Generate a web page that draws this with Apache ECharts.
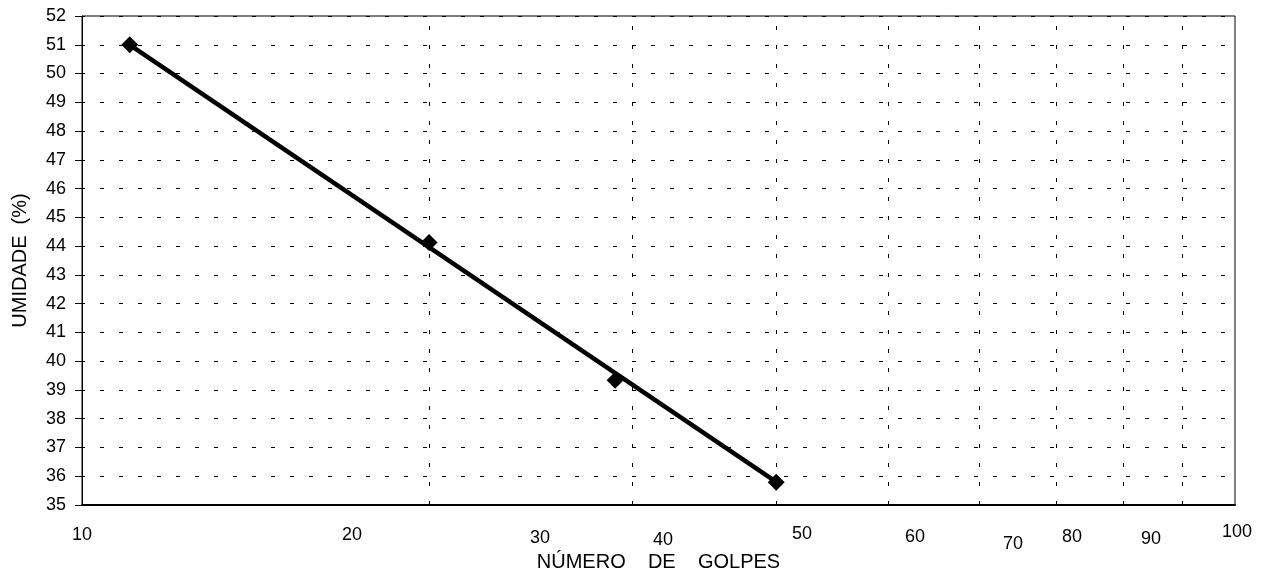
<!DOCTYPE html>
<html>
<head>
<meta charset="utf-8">
<script src="https://cdn.jsdelivr.net/npm/echarts@6/dist/echarts.min.js"></script>
<style>
  html, body { margin: 0; padding: 0; background: #fff; }
  #chart { width: 1269px; height: 581px; }
</style>
</head>
<body>
<div id="chart"></div>
<script>
// ---- data ----
const blows = [11, 20, 29, 40];
const moisture = [51.0, 44.13, 39.34, 35.79];
const trendBlows = [11, 40];
const trendMoisture = [51.0, 35.8];
const gridBlows = [20, 30, 40, 50, 60, 70, 80, 90];
const xTickLabels = ['10', '20', '30', '40', '50', '60', '70', '80', '90', '100'];
const xAxisTitle = 'NÚMERO    DE    GOLPES';
const yAxisTitle = 'UMIDADE  (%)';

// ---- layout (hand-placed tick-label text boxes, as in the original) ----
const xTickLabelPos = [[82, 535], [352, 535], [540, 538], [663, 540], [802, 534],
                       [915, 537], [1013, 544], [1072, 537], [1151, 539], [1237, 532]];

const FONT = 'Arial, "Liberation Sans", sans-serif';

const chart = echarts.init(document.getElementById('chart'), null, { renderer: 'canvas' });

const graphics = xTickLabels.map((t, i) => ({
  type: 'text',
  x: xTickLabelPos[i][0],
  y: xTickLabelPos[i][1],
  silent: true,
  style: {
    text: t,
    fill: '#000',
    font: '18px ' + FONT,
    textAlign: 'center',
    textVerticalAlign: 'middle'
  }
}));

chart.setOption({
  animation: false,
  backgroundColor: '#fff',
  grid: {
    left: 82, right: 34, top: 16, bottom: 76,
    show: true, borderColor: '#000', borderWidth: 1, backgroundColor: 'transparent'
  },
  xAxis: {
    type: 'log',
    logBase: 10,
    min: 10,
    max: 100,
    name: xAxisTitle,
    nameLocation: 'middle',
    nameGap: 47,
    nameTextStyle: { color: '#000', fontSize: 20, fontFamily: FONT },
    axisLine: { show: true, lineStyle: { color: '#000', width: 2 } },
    axisTick: { show: false },
    axisLabel: { show: false },
    splitLine: { show: false },
    minorTick: { show: false },
    minorSplitLine: { show: false }
  },
  yAxis: {
    type: 'value',
    min: 35,
    max: 52,
    interval: 1,
    name: yAxisTitle,
    nameLocation: 'middle',
    nameGap: 52,
    nameTextStyle: { color: '#000', fontSize: 20, fontFamily: FONT },
    axisLine: { show: true, lineStyle: { color: '#000', width: 1 } },
    axisTick: { show: true, inside: false, length: 7, lineStyle: { color: '#000' } },
    axisLabel: { color: '#000', fontSize: 18, fontFamily: FONT, margin: 16 },
    splitLine: {
      show: true,
      lineStyle: { color: '#000', width: 1, type: [4, 15], dashOffset: 1 }
    }
  },
  series: [
    {
      type: 'line',
      data: trendBlows.map((b, i) => [b, trendMoisture[i]]),
      showSymbol: false,
      symbol: 'none',
      lineStyle: { color: '#000', width: 4.5 },
      silent: true,
      z: 2,
      markLine: {
        silent: true,
        symbol: ['none', 'none'],
        label: { show: false },
        lineStyle: { color: '#000', width: 1, type: [4, 15], opacity: 1 },
        data: gridBlows.map(g => ({ xAxis: g })),
        z: 1
      }
    },
    {
      type: 'scatter',
      data: blows.map((b, i) => [b, moisture[i]]),
      symbol: 'diamond',
      symbolSize: 17,
      itemStyle: { color: '#000', opacity: 1 },
      silent: true,
      z: 3
    }
  ],
  graphic: graphics
});
</script>
</body>
</html>
